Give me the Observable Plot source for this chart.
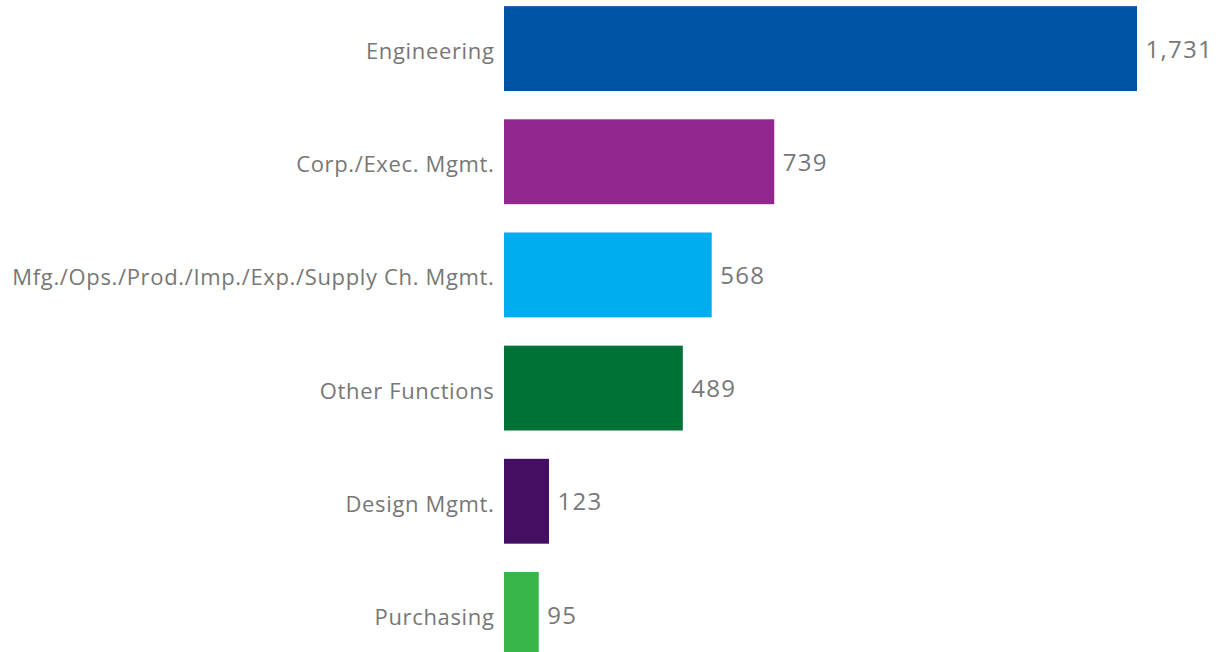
<!DOCTYPE html>
<html>
<head>
<meta charset="utf-8">
<script src="https://cdn.jsdelivr.net/npm/d3@7"></script>
<script src="https://cdn.jsdelivr.net/npm/@observablehq/plot@0.6"></script>
<style>
  html, body { margin: 0; padding: 0; background: #fff; }
  #chart svg { display: block; }
  .lbl text { letter-spacing: 0.65px; }
  .val text { letter-spacing: 1.3px; }
</style>
</head>
<body>
<div id="chart"></div>
<script>
const categories = ["Engineering", "Corp./Exec. Mgmt.", "Mfg./Ops./Prod./Imp./Exp./Supply Ch. Mgmt.", "Other Functions", "Design Mgmt.", "Purchasing"];
const counts = [1731, 739, 568, 489, 123, 95];
const colors = ["#0054A6", "#92278F", "#00AEEF", "#007236", "#440E62", "#39B54A"];

const data = categories.map((c, i) => ({category: c, count: counts[i]}));
const fmt = d3.format(",");

const chart = Plot.plot({
  width: 1227,
  height: 652,
  marginLeft: 0,
  marginRight: 0,
  marginTop: -8,
  marginBottom: -19,
  style: {fontFamily: "'Open Sans', sans-serif", background: "#fff"},
  x: {domain: [0, 1731], range: [504, 1137], axis: null},
  y: {domain: categories, paddingInner: 0.25, paddingOuter: 0.125, round: false, axis: null},
  color: {domain: categories, range: colors},
  marks: [
    Plot.barX(data, {y: "category", x: "count", fill: "category"}),
    Plot.text(data, {y: "category", x: 0, text: "category", textAnchor: "end", dx: -10, dy: 3, fill: "#777", fontSize: 22, className: "lbl"}),
    Plot.text(data, {y: "category", x: "count", text: d => fmt(d.count), textAnchor: "start", dx: 8, dy: 1, fill: "#777", fontSize: 24, className: "val"})
  ]
});
document.getElementById("chart").appendChild(chart);
</script>
</body>
</html>
